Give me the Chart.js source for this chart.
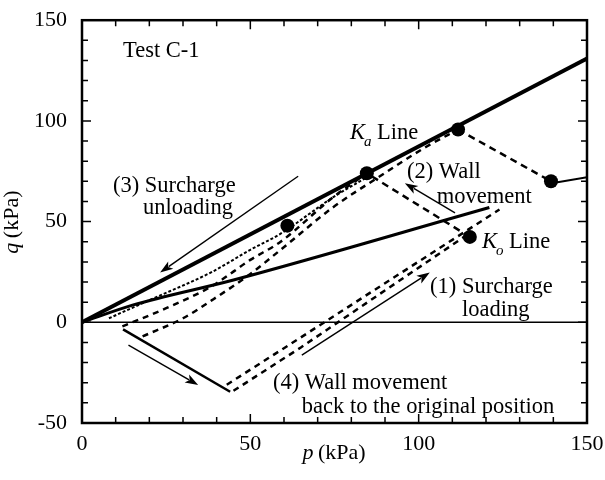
<!DOCTYPE html>
<html>
<head>
<meta charset="utf-8">
<script src="https://cdn.jsdelivr.net/npm/chart.js@4.4.1/dist/chart.umd.min.js"></script>
<style>
html,body{margin:0;padding:0;background:#fff;}
#wrap{width:605px;height:480px;}
</style>
</head>
<body>
<div id="wrap"><canvas id="c" width="605" height="480"></canvas></div>
<script>
// ---- data (p, q in kPa) ----
const pTicks = [0, 50, 100, 150];
const qTicks = [-50, 0, 50, 100, 150];

const kaLineP = [0, 150];
const kaLineQ = [0, 131];
const koLineP = [0, 15, 45, 121];
const koLineQ = [0, 8.5, 21, 57];
const zeroLineP = [0, 150];
const zeroLineQ = [0, 0];
const wallBackP = [12.2, 44];
const wallBackQ = [-3.5, -34.5];
const tailP = [139.5, 150];
const tailQ = [69, 72];
const markerP = [61, 84.6, 111.7, 139.3, 115.2];
const markerQ = [48, 74, 95.7, 70, 42.4];
const wallMoveP = [115.2, 84.6];
const wallMoveQ = [42.4, 74];
const peakDropP = [111.7, 139.3];
const peakDropQ = [95.7, 70];
const reloadUpperP = [43, 65, 124];
const reloadUpperQ = [-31, -7.5, 56];
const reloadLowerP = [45, 65, 114];
const reloadLowerQ = [-34, -12.5, 43];
const pathUpperP = [12, 25, 38.6, 50, 59, 74.5, 84.6];
const pathUpperQ = [-2, 7, 18, 31, 40, 62, 74];
const pathLowerP = [18, 30, 38.6, 50, 59, 74.5, 88, 102.4, 111.7];
const pathLowerQ = [-7, 2, 11, 24, 36, 57, 72, 87.3, 95.7];
const wavyP = [8, 20, 38.6, 50, 59, 74.5, 84.6];
const wavyQ = [2, 11, 25, 36, 44, 62, 72];

// arrows: [tailP, tailQ, headP, headQ]
const arrowWall2 = [110.8, 54.3, 95.9, 69.1];
const arrowLoad1 = [65.3, -16.3, 103.3, 24.7];
const arrowUnload3 = [64.2, 72.5, 23.2, 24.7];
const arrowWall4 = [13.8, -11.3, 34.5, -31.1];

function pts(xs, ys) { return xs.map((x, i) => ({x: x, y: ys[i]})); }

const SERIF = '"Liberation Serif", "DejaVu Serif", serif';

function lineDs(xs, ys, width, dash, smooth) {
  const d = {
    data: pts(xs, ys), showLine: true, borderColor: '#000', borderWidth: width,
    borderDash: dash || [], pointRadius: 0, pointHoverRadius: 0, fill: false,
    tension: 0, borderCapStyle: 'butt', borderJoinStyle: 'round'
  };
  if (smooth) { d.cubicInterpolationMode = 'monotone'; }
  return d;
}

// annotation texts (segments: [text, italic, sub])
const labels = [
  {p: 12.2, q: 131.7, segs: [['Test C-1']]},
  {p: 9.2, q: 64.6, segs: [['(3) Surcharge']]},
  {p: 18.1, q: 53.8, segs: [['unloading']]},
  {p: 79.6, q: 90.8, segs: [['K', true], ['a', true, true], [' Line']]},
  {p: 96.5, q: 71.5, segs: [['(2) Wall']]},
  {p: 105.4, q: 59.2, segs: [['movement']]},
  {p: 118.8, q: 37, segs: [['K', true], ['o', true, true], [' Line']]},
  {p: 103.4, q: 14.3, segs: [['(1) Surcharge']]},
  {p: 112.9, q: 3, segs: [['loading']]},
  {p: 56.7, q: -33, segs: [['(4) Wall movement']]},
  {p: 65.3, q: -44.9, segs: [['back to the original position']]}
];

const FS = 22.5;

const overlay = {
  id: 'overlay',
  afterDatasetsDraw(chart) {
    const ctx = chart.ctx, xs = chart.scales.x, ys = chart.scales.y, a = chart.chartArea;
    ctx.save();
    // frame
    ctx.strokeStyle = '#000';
    ctx.lineWidth = 2.5;
    ctx.strokeRect(a.left, a.top, a.right - a.left, a.bottom - a.top);
    // inward ticks
    ctx.lineWidth = 1.5;
    for (let v = 0; v <= 150; v += 10) {
      const x = xs.getPixelForValue(v);
      const L = (v % 50 === 0) ? 9 : 6;
      ctx.beginPath();
      ctx.moveTo(x, a.bottom); ctx.lineTo(x, a.bottom - L);
      ctx.moveTo(x, a.top); ctx.lineTo(x, a.top + L);
      ctx.stroke();
    }
    for (let v = -50; v <= 150; v += 10) {
      const y = ys.getPixelForValue(v);
      const L = (v % 50 === 0) ? 9 : 6;
      ctx.beginPath();
      ctx.moveTo(a.left, y); ctx.lineTo(a.left + L, y);
      ctx.moveTo(a.right, y); ctx.lineTo(a.right - L, y);
      ctx.stroke();
    }
    // arrows
    function arrow(arr) {
      const x1 = xs.getPixelForValue(arr[0]), y1 = ys.getPixelForValue(arr[1]);
      const x2 = xs.getPixelForValue(arr[2]), y2 = ys.getPixelForValue(arr[3]);
      const ang = Math.atan2(y2 - y1, x2 - x1);
      const hl = 13, hw = 4.5;
      ctx.lineWidth = 1.4;
      ctx.beginPath();
      ctx.moveTo(x1, y1);
      ctx.lineTo(x2 - Math.cos(ang) * hl * 0.8, y2 - Math.sin(ang) * hl * 0.8);
      ctx.stroke();
      ctx.beginPath();
      ctx.moveTo(x2, y2);
      ctx.lineTo(x2 - Math.cos(ang) * hl - Math.sin(ang) * hw, y2 - Math.sin(ang) * hl + Math.cos(ang) * hw);
      ctx.lineTo(x2 - Math.cos(ang) * hl * 0.75, y2 - Math.sin(ang) * hl * 0.75);
      ctx.lineTo(x2 - Math.cos(ang) * hl + Math.sin(ang) * hw, y2 - Math.sin(ang) * hl - Math.cos(ang) * hw);
      ctx.closePath();
      ctx.fillStyle = '#000';
      ctx.fill();
    }
    [arrowWall2, arrowLoad1, arrowUnload3, arrowWall4].forEach(arrow);
    // labels
    ctx.fillStyle = '#000';
    ctx.textBaseline = 'alphabetic';
    ctx.textAlign = 'left';
    function drawSegs(segs, x, y, size) {
      segs.forEach(s => {
        const it = !!s[1], sub = !!s[2];
        const fs = sub ? Math.round(size * 0.68) : size;
        ctx.font = (it ? 'italic ' : '') + fs + 'px ' + SERIF;
        const yy = sub ? y + size * 0.3 : y;
        ctx.fillText(s[0], x, yy);
        x += ctx.measureText(s[0]).width + (it && !sub ? -1 : 0);
      });
    }
    labels.forEach(l => {
      drawSegs(l.segs, xs.getPixelForValue(l.p), ys.getPixelForValue(l.q), FS);
    });
    // axis titles
    const cx = (a.left + a.right) / 2;
    ctx.font = 'italic 22px ' + SERIF;
    const w1 = ctx.measureText('p').width;
    ctx.font = '22px ' + SERIF;
    const w2 = ctx.measureText(' (kPa)').width;
    drawSegs([['p', true], [' (kPa)']], cx - (w1 + w2) / 2, 459, 22);
    ctx.save();
    ctx.translate(18, (a.top + a.bottom) / 2);
    ctx.rotate(-Math.PI / 2);
    ctx.font = 'italic 22px ' + SERIF;
    const w3 = ctx.measureText('q').width;
    drawSegs([['q', true], [' (kPa)']], -(w3 + w2) / 2, 0, 22);
    ctx.restore();
    ctx.restore();
  }
};

const markerDs = {
  data: pts(markerP, markerQ), showLine: false, pointRadius: 7, pointHoverRadius: 7,
  pointBackgroundColor: '#000', pointBorderColor: '#000', pointBorderWidth: 0
};

new Chart(document.getElementById('c'), {
  type: 'scatter',
  data: {
    datasets: [
      lineDs(zeroLineP, zeroLineQ, 1.5),
      lineDs(kaLineP, kaLineQ, 4),
      lineDs(koLineP, koLineQ, 3, null, true),
      lineDs(wallBackP, wallBackQ, 2.5),
      lineDs(tailP, tailQ, 2),
      lineDs(wallMoveP, wallMoveQ, 2.5, [7, 5]),
      lineDs(peakDropP, peakDropQ, 2.5, [7, 5]),
      lineDs(reloadUpperP, reloadUpperQ, 2.5, [6, 5]),
      lineDs(reloadLowerP, reloadLowerQ, 2.5, [6, 5]),
      lineDs(pathUpperP, pathUpperQ, 2.5, [6, 5], true),
      lineDs(pathLowerP, pathLowerQ, 2.5, [6, 5], true),
      lineDs(wavyP, wavyQ, 2, [3, 2], true),
      markerDs
    ]
  },
  options: {
    responsive: false,
    animation: false,
    events: [],
    layout: {padding: {top: 18, right: 18, left: 0, bottom: 0}},
    plugins: {legend: {display: false}, tooltip: {enabled: false}},
    scales: {
      x: {
        type: 'linear', min: 0, max: 150,
        afterBuildTicks: s => { s.ticks = pTicks.map(v => ({value: v})); },
        afterFit: s => { s.height = 57; },
        grid: {display: false}, border: {display: false},
        ticks: {color: '#000', padding: 0, font: {family: SERIF, size: 22}}
      },
      y: {
        type: 'linear', min: -50, max: 150,
        afterBuildTicks: s => { s.ticks = qTicks.map(v => ({value: v})); },
        afterFit: s => { s.width = 82; },
        grid: {display: false}, border: {display: false},
        ticks: {color: '#000', padding: 7, font: {family: SERIF, size: 22}}
      }
    }
  },
  plugins: [overlay]
});
</script>
</body>
</html>
